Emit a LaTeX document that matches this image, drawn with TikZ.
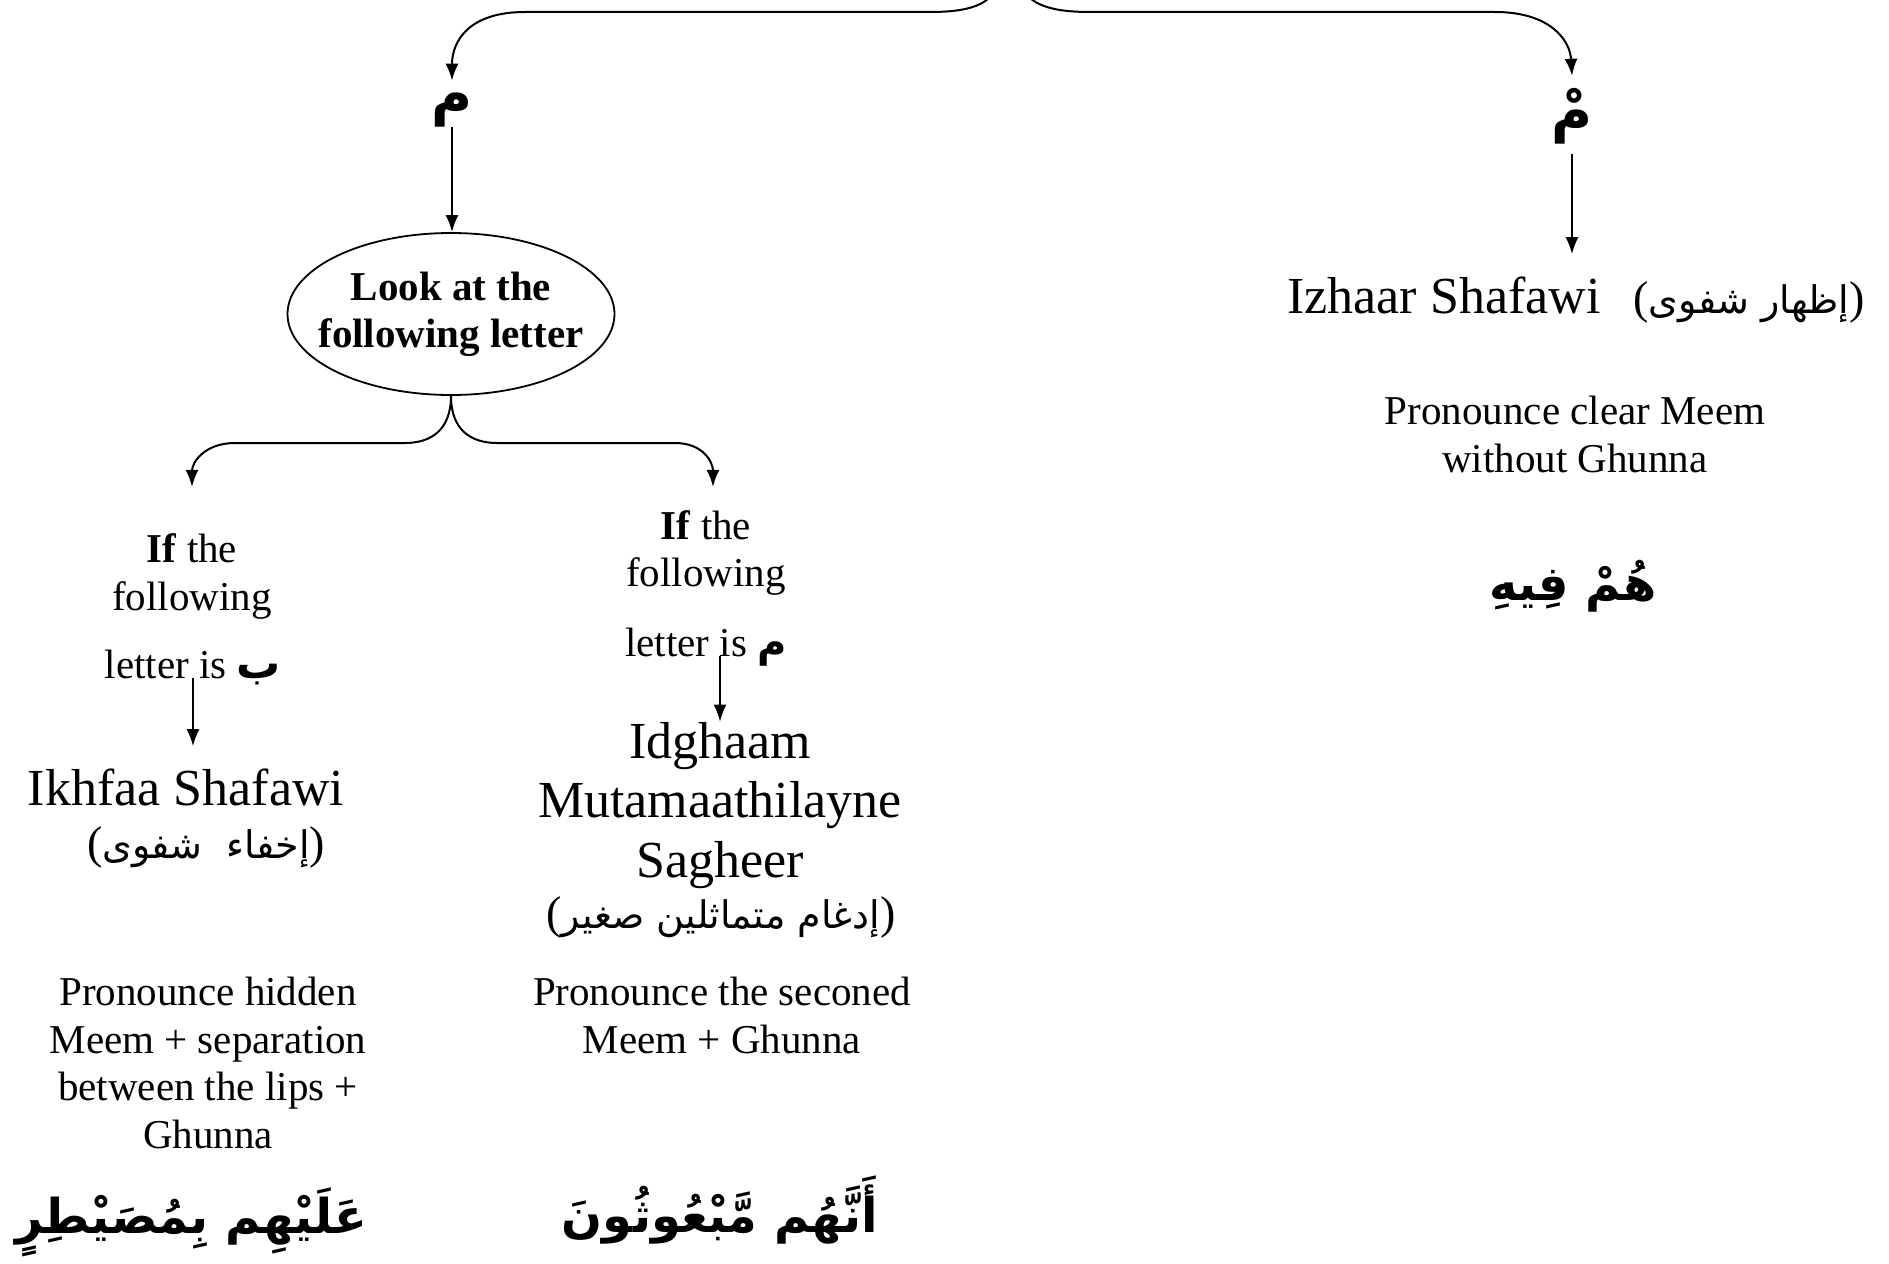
\documentclass[tikz,border=0pt]{standalone}
\usepackage{fontspec}
\setmainfont{Liberation Serif}
\newfontfamily\arabicfont[Script=Arabic]{DejaVu Sans}
\TeXXeTstate=1
\usetikzlibrary{arrows.meta,shapes.geometric,calc}
\newcommand\fsz[2]{\fontsize{#1}{#2}\selectfont}
\newcommand\parAR[1]{({\arabicfont\fsz{38}{46}\beginR #1\endR})}
\begin{document}
\begin{tikzpicture}[x=1pt,y=-1pt,
  conn/.style={draw=black, line width=2pt, -{Latex[length=17pt,width=13pt]}},
  body/.style={inner sep=0pt, anchor=base, font=\fsz{41}{47}},
  big/.style={inner sep=0pt, anchor=base, font=\fsz{52}{60}},
  arb/.style={inner sep=0pt, anchor=base, font=\fsz{46}{54}},
  exmp/.style={inner sep=0pt, anchor=base, font=\arabicfont\bfseries\fsz{48}{56}},
  meem/.style={inner sep=0pt, font=\arabicfont\bfseries\fsz{56}{64}},
]
\useasboundingbox (0,0) rectangle (1889,1263);
\clip (0,0) rectangle (1889,1263);

% top letters
\coordinate (topc) at (1009,-45);
\node[meem] (mL) at (452,110) {م};
\node[meem] (mR) at (1572,116) {مْ};
\draw[conn] (topc) .. controls (1000,-5) and (990,12) .. (930,12) -- (525,12)
  .. controls (470,12) and (452,40) .. ($(mL.north)+(0,-12)$);
\draw[conn] (topc) .. controls (1018,-5) and (1030,12) .. (1090,12) -- (1495,12)
  .. controls (1550,12) and (1570,40) .. ($(mR.north)+(0,-12)$);

% ellipse
\node[draw, line width=1.8pt, ellipse, minimum width=327pt, minimum height=162pt, inner sep=0pt] (look) at (451,314) {};
\node[align=center, inner sep=0pt, font=\bfseries\fsz{41}{47}] (lookt) at (look.center) {Look at the\\following letter};
\draw[conn] (mL.south) -- (mL.south |- look.north);

% left column
\node[body] (ifL1) at (192,562) {\textbf{If} the};
\node[body] (ifL2) at (192,610) {following};
\node[body] (ifL3) at (193,678) {letter is {\arabicfont\bfseries\fsz{44}{52}ب}};
\node[big] (ikh1) at (186,805) {Ikhfaa Shafawi};
\node[arb] (ikh2) at (206,858) {\parAR{إخفاء\ \ شفوى}};
\node[body] (pL1) at (208,1005) {Pronounce hidden};
\node[body] (pL2) at (208,1053) {Meem + separation};
\node[body] (pL3) at (208,1100) {between the lips +};
\node[body] (pL4) at (208,1148) {Ghunna};
\node[exmp] (exL) at (191,1233) {\beginR عَلَيْهِم بِمُصَيْطِرٍ\endR};

% middle column
\node[body] (ifM1) at (706,539) {\textbf{If} the};
\node[body] (ifM2) at (706,586) {following};
\node[body] (ifM3) at (706,656) {letter is {\arabicfont\bfseries\fsz{40}{48}م}};
\node[big] (idg1) at (720,758) {Idghaam};
\node[big] (idg2) at (720,817) {Mutamaathilayne};
\node[big] (idg3) at (720,877) {Sagheer};
\node[arb] (idg4) at (721,928) {\parAR{إدغام متماثلين صغير}};
\node[body] (pM1) at (722,1005) {Pronounce the seconed};
\node[body] (pM2) at (722,1053) {Meem + Ghunna};
\node[exmp] (exM) at (720,1232) {\beginR أَنَّهُم مَّبْعُوثُونَ\endR};

% right column
\node[big, anchor=base west] (iz) at (1287,313) {Izhaar Shafawi};
\node[arb, anchor=base east] (izar) at (1865,313) {\parAR{إظهار شفوى}};
\node[body] (pR1) at (1575,424) {Pronounce clear Meem};
\node[body] (pR2) at (1575,472) {without Ghunna};
\node[exmp] (exR) at (1573,600) {\beginR هُمْ فِيهِ\endR};

% branches from ellipse
\draw[conn] (look.south) .. controls ($(look.south)+(0,35)$) and (430,443) .. (405,443) -- (235,443)
  .. controls (205,443) and (192,462) .. ($(ifL1.north)+(0,-46)$);
\draw[conn] (look.south) .. controls ($(look.south)+(0,35)$) and (472,443) .. (497,443) -- (675,443)
  .. controls (703,443) and (713,462) .. ($(ifM1.north)+(7,-23)$);

% vertical arrows
\draw[conn] (ifL3.base) -- ($(ifL3.base |- ikh1.north)+(0,-22)$);
\draw[conn] (idg1.north |- ifM3.base) -- (idg1.north);
\draw[conn] ($(mR.south)+(0,10)$) -- ($(mR.south |- iz.north)+(0,-22)$);
\end{tikzpicture}
\end{document}
